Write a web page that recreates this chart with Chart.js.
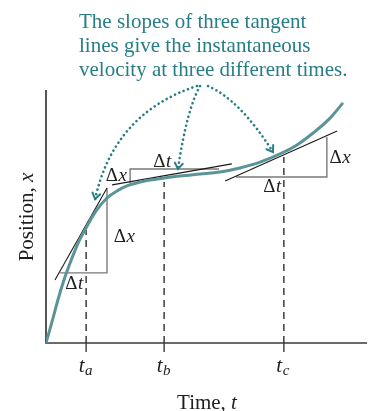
<!DOCTYPE html>
<html>
<head>
<meta charset="utf-8">
<script src="https://cdn.jsdelivr.net/npm/chart.js@4.4.0/dist/chart.umd.min.js"></script>
<style>
    body { margin: 0; background: #fff; }
    #box { width: 370px; height: 411px; position: relative; }
</style>
</head>
<body>
<div id="box"><canvas id="positionChart"></canvas></div>
<script>
// position x(t), arbitrary units (t and x both 0..10)
var curveTimes = [0, 0.09, 0.22, 0.37, 0.56, 0.75, 1.00, 1.25, 1.56, 1.90, 2.21, 2.52, 2.93, 3.24, 3.68, 4.17, 4.80, 5.42, 6.04, 6.67, 7.41, 7.82, 8.32, 8.85, 9.25];
var curvePositions = [0, 0.40, 0.99, 1.70, 2.49, 3.16, 3.95, 4.55, 5.22, 5.73, 6.01, 6.21, 6.36, 6.44, 6.52, 6.60, 6.68, 6.76, 6.92, 7.15, 7.55, 7.83, 8.30, 8.89, 9.49];

// the three instants t_a, t_b, t_c
var tickTimes = [1.25, 3.68, 7.41];
var tickSubscripts = ['a', 'b', 'c'];
var dashTops = [4.47, 6.36, 7.35];

// tangent line segments [start, end] as [t, x]
var tangentSegments = [
    [[0.28, 2.49], [1.90, 6.13]],
    [[2.06, 6.25], [5.79, 7.08]],
    [[5.58, 6.40], [9.07, 8.38]]
];

// rise/run triangles, three corners each
var triangles = [
    [[0.44, 2.77], [1.90, 2.77], [1.90, 6.13]],
    [[2.62, 6.30], [2.62, 6.88], [5.39, 6.88]],
    [[5.92, 6.56], [8.75, 6.56], [8.75, 8.14]]
];

var noteLines = [
    'The slopes of three tangent',
    'lines give the instantaneous',
    'velocity at three different times.'
];

var TEAL = '#277e86';
var SERIF = '"Liberation Serif", "DejaVu Serif", serif';

function toPoints(list) {
    return list.map(function (p) { return { x: p[0], y: p[1] }; });
}

function lineSet(points, color, width, dash) {
    return {
        data: points,
        showLine: true,
        borderColor: color,
        borderWidth: width,
        borderDash: dash || [],
        pointRadius: 0,
        tension: 0,
        fill: false
    };
}

var datasets = [];
datasets.push({
    data: curveTimes.map(function (t, i) { return { x: t, y: curvePositions[i] }; }),
    showLine: true,
    borderColor: '#5a9497',
    borderWidth: 3,
    pointRadius: 0,
    cubicInterpolationMode: 'monotone',
    fill: false
});
for (var i = 0; i < tangentSegments.length; i++) {
    datasets.push(lineSet(toPoints(tangentSegments[i]), '#1a1a1a', 1.1));
}
for (var i = 0; i < triangles.length; i++) {
    datasets.push(lineSet(toPoints(triangles[i]), '#7a7a7a', 1.4));
}
for (var i = 0; i < tickTimes.length; i++) {
    datasets.push(lineSet([{ x: tickTimes[i], y: 0 }, { x: tickTimes[i], y: dashTops[i] }], '#2e2e2e', 1.4, [7, 5]));
}

// "Δ" upright followed by an italic letter, centred on (cx, cy)
function drawDelta(ctx, letter, cx, cy, size) {
    ctx.font = size + 'px ' + SERIF;
    var w1 = ctx.measureText('\u0394').width;
    ctx.font = 'italic ' + size + 'px ' + SERIF;
    var w2 = ctx.measureText(letter).width;
    var x0 = cx - (w1 + w2) / 2;
    var base = cy + size * 0.33;
    ctx.font = size + 'px ' + SERIF;
    ctx.fillText('\u0394', x0, base);
    ctx.font = 'italic ' + size + 'px ' + SERIF;
    ctx.fillText(letter, x0 + w1 + 0.5, base);
}

function dottedArrow(ctx, start, ctrl, tip) {
    ctx.save();
    ctx.strokeStyle = TEAL;
    ctx.lineWidth = 2.6;
    ctx.lineCap = 'round';
    ctx.setLineDash([0.1, 4.6]);
    ctx.beginPath();
    ctx.moveTo(start[0], start[1]);
    ctx.quadraticCurveTo(ctrl[0], ctrl[1], tip[0], tip[1]);
    ctx.stroke();

    // small open head
    var ang = Math.atan2(tip[1] - ctrl[1], tip[0] - ctrl[0]);
    ctx.setLineDash([]);
    ctx.lineWidth = 2;
    ctx.beginPath();
    ctx.moveTo(tip[0] - 7 * Math.cos(ang - 0.6), tip[1] - 7 * Math.sin(ang - 0.6));
    ctx.lineTo(tip[0], tip[1]);
    ctx.lineTo(tip[0] - 7 * Math.cos(ang + 0.6), tip[1] - 7 * Math.sin(ang + 0.6));
    ctx.stroke();
    ctx.restore();
}

var figurePlugin = {
    id: 'figure',
    beforeDatasetsDraw: function (chart) {
        var ctx = chart.ctx;
        var a = chart.chartArea;
        var sx = chart.scales.x;
        ctx.save();
        ctx.strokeStyle = '#3a3a3a';
        ctx.lineWidth = 1.7;
        ctx.beginPath();
        ctx.moveTo(a.left, a.top);
        ctx.lineTo(a.left, a.bottom);
        ctx.lineTo(a.right, a.bottom);
        ctx.stroke();

        ctx.lineWidth = 1.4;
        tickTimes.forEach(function (t) {
            var x = sx.getPixelForValue(t);
            ctx.beginPath();
            ctx.moveTo(x, a.bottom);
            ctx.lineTo(x, a.bottom + 9);
            ctx.stroke();
        });
        ctx.restore();
    },
    afterDraw: function (chart) {
        var ctx = chart.ctx;
        var a = chart.chartArea;
        var sx = chart.scales.x;
        var sy = chart.scales.y;
        function pt(p) { return [sx.getPixelForValue(p[0]), sy.getPixelForValue(p[1])]; }

        ctx.save();
        ctx.fillStyle = '#1e1e1e';
        ctx.textAlign = 'left';
        ctx.textBaseline = 'alphabetic';

        // t_a, t_b, t_c under the ticks
        tickTimes.forEach(function (t, i) {
            var x = sx.getPixelForValue(t);
            ctx.font = 'italic 21px ' + SERIF;
            ctx.fillText('t', x - 7.5, a.bottom + 29);
            var w = ctx.measureText('t').width;
            ctx.font = 'italic 15px ' + SERIF;
            ctx.fillText(tickSubscripts[i], x - 7.5 + w + 0.5, a.bottom + 32);
        });

        // axis titles
        ctx.font = '21px ' + SERIF;
        var w1 = ctx.measureText('Time, ').width;
        ctx.font = 'italic 21px ' + SERIF;
        var w2 = ctx.measureText('t').width;
        var x0 = 207 - (w1 + w2) / 2;
        ctx.font = '21px ' + SERIF;
        ctx.fillText('Time, ', x0, 409);
        ctx.font = 'italic 21px ' + SERIF;
        ctx.fillText('t', x0 + w1, 409);

        ctx.save();
        ctx.translate(33, 217);
        ctx.rotate(-Math.PI / 2);
        ctx.font = '21px ' + SERIF;
        w1 = ctx.measureText('Position, ').width;
        ctx.font = 'italic 21px ' + SERIF;
        w2 = ctx.measureText('x').width;
        ctx.font = '21px ' + SERIF;
        ctx.fillText('Position, ', -(w1 + w2) / 2, 0);
        ctx.font = 'italic 21px ' + SERIF;
        ctx.fillText('x', -(w1 + w2) / 2 + w1, 0);
        ctx.restore();

        // Δx on the vertical leg, Δt on the horizontal leg
        var deltaOffsets = [
            { x: [17, 5], t: [-9.5, 10] },
            { x: [-14, -1.5], t: [-12.5, -8] },
            { x: [13, 0], t: [-9.5, 9] }
        ];
        triangles.forEach(function (tri, i) {
            var c = tri.map(pt);
            var vert, horiz;
            if (tri[0][1] === tri[1][1]) {
                horiz = [c[0], c[1]];
                vert = [c[1], c[2]];
            } else {
                vert = [c[0], c[1]];
                horiz = [c[1], c[2]];
            }
            var off = deltaOffsets[i];
            drawDelta(ctx, 'x', vert[0][0] + off.x[0], (vert[0][1] + vert[1][1]) / 2 + off.x[1], 19);
            drawDelta(ctx, 't', (horiz[0][0] + horiz[1][0]) / 2 + off.t[0], horiz[0][1] + off.t[1], 19);
        });

        // note text and its pointers
        ctx.fillStyle = TEAL;
        ctx.font = '21px ' + SERIF;
        noteLines.forEach(function (line, i) {
            ctx.fillText(line, 79, 28 + i * 24);
        });
        ctx.restore();

        dottedArrow(ctx, [197, 86], [114, 113], pt([1.53, 5.69]));
        dottedArrow(ctx, [200, 86], [187, 109], pt([4.11, 6.88]));
        dottedArrow(ctx, [208, 86], [240, 100], pt([7.07, 7.55]));
    }
};

new Chart('positionChart', {
    type: 'scatter',
    data: { datasets: datasets },
    options: {
        responsive: true,
        maintainAspectRatio: false,
        animation: false,
        events: [],
        layout: {
            padding: { left: 46, right: 3, top: 90, bottom: 68 }
        },
        plugins: {
            legend: { display: false },
            tooltip: { enabled: false }
        },
        scales: {
            x: { type: 'linear', min: 0, max: 10, display: false },
            y: { type: 'linear', min: 0, max: 10, display: false }
        }
    },
    plugins: [figurePlugin]
});
</script>
</body>
</html>
